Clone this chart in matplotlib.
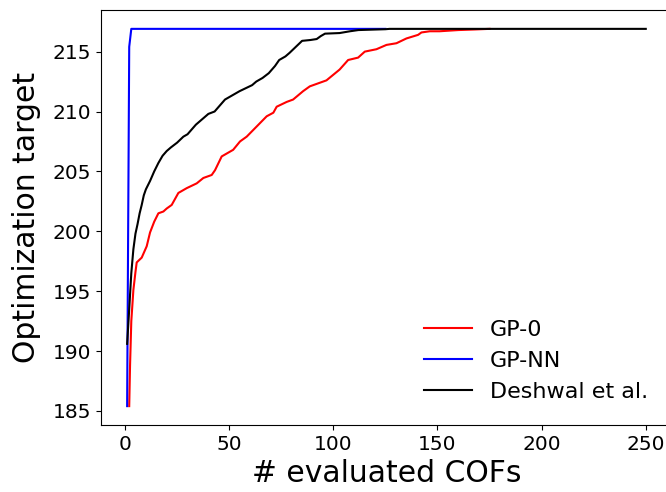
import matplotlib
matplotlib.use("Agg")
import matplotlib.pyplot as plt

# === Daten ===
gp0_x = [2, 2.4, 3, 4, 5, 5.6, 8, 10.4, 12, 14, 16, 18.4, 20, 22.4, 25.6, 29.6,
         34.4, 37.6, 41.6, 43.2, 46.4, 51.9, 55.2, 58.4, 63.2, 68, 71.2, 72.8,
         77.6, 80.7, 85.5, 88.7, 90.3, 96.7, 103, 107.1, 111.9, 115.1, 120.7,
         125.5, 130.3, 135.1, 140.7, 142.3, 146.3, 151, 160, 168, 175]
gp0_y = [185.4, 188.8, 192.5, 195.1, 196.6, 197.4, 197.8, 198.75, 199.9, 200.8,
         201.5, 201.65, 201.9, 202.2, 203.2, 203.6, 204.0, 204.45, 204.7, 205.1,
         206.25, 206.8, 207.5, 207.9, 208.75, 209.6, 209.9, 210.4, 210.8, 211.0,
         211.7, 212.1, 212.2, 212.6, 213.5, 214.3, 214.5, 215.0, 215.2, 215.56,
         215.7, 216.1, 216.4, 216.6, 216.7, 216.7, 216.8, 216.85, 216.9]

gpnn_x = [1, 2, 3, 125]
gpnn_y = [185.4, 215.4, 216.9, 216.9]

deshwal_x = [1, 2, 3, 4, 5, 6, 7, 8, 9, 10, 12, 14, 16, 18, 20, 22, 25, 28, 30,
             32, 34, 36, 38, 40, 43, 45, 48, 52, 55, 58, 61, 63, 66, 69, 72, 74,
             77, 79, 82, 85, 89, 92, 94, 96, 103, 108, 112, 125, 127, 250]
deshwal_y = [190.6, 193.5, 196.5, 198.5, 199.8, 200.6, 201.5, 202.2, 203.0,
             203.5, 204.2, 205.0, 205.7, 206.3, 206.7, 207.0, 207.4, 207.9,
             208.1, 208.5, 208.9, 209.2, 209.5, 209.8, 210.0, 210.4, 211.0,
             211.4, 211.7, 211.95, 212.2, 212.5, 212.8, 213.2, 213.8, 214.3,
             214.6, 214.9, 215.4, 215.9, 215.97, 216.05, 216.3, 216.5, 216.55,
             216.7, 216.8, 216.87, 216.9, 216.9]

# === Grafik ===
fig = plt.figure(figsize=(6.66, 4.92), dpi=100)
ax = fig.add_axes([101.2 / 666, 67 / 492, 570.5 / 666, 415 / 492])

ax.plot(gp0_x, gp0_y, color="red", lw=1.5, label="GP-0")
ax.plot(gpnn_x, gpnn_y, color="blue", lw=1.5, label="GP-NN")
ax.plot(deshwal_x, deshwal_y, color="black", lw=1.5, label="Deshwal et al.")

ax.set_xlabel("# evaluated COFs", fontsize=21.5)
ax.set_ylabel("Optimization target", fontsize=21.5, labelpad=8.5)
ax.tick_params(labelsize=14.5)
ax.set_yticks([185, 190, 195, 200, 205, 210, 215])
ax.set_xticks([0, 50, 100, 150, 200, 250])
ax.legend(loc="lower right", frameon=False, fontsize=16, handlelength=2.15,
          bbox_to_anchor=(1 - 4 / 570.5, 3 / 415))

fig.savefig("out.png", dpi=100)
